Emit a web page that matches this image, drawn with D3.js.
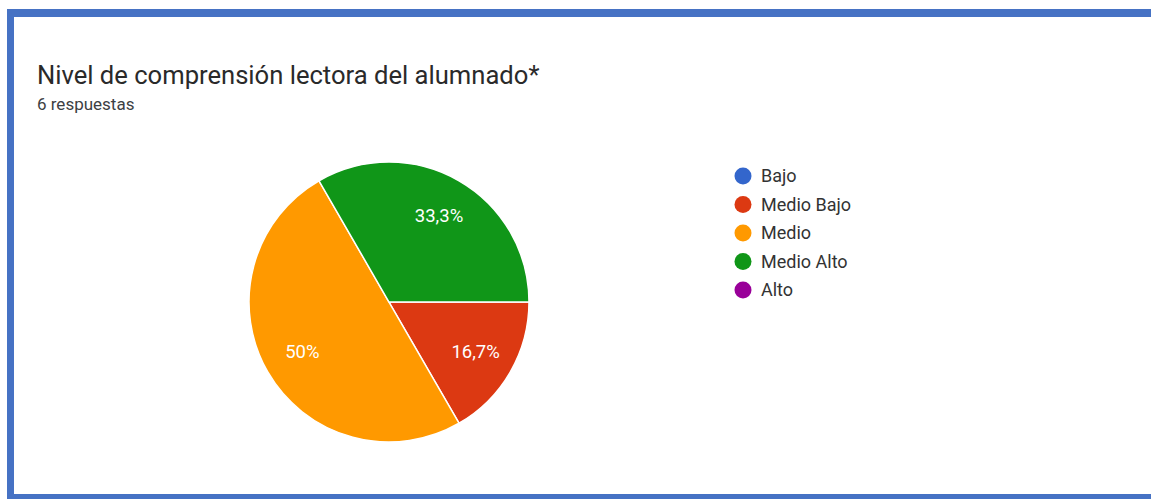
<!DOCTYPE html>
<html><head><meta charset="utf-8">
<script src="https://cdn.jsdelivr.net/npm/d3@7"></script>
<style>
html,body{margin:0;padding:0;background:#fff;}
svg{display:block;}
</style></head>
<body>
<svg id="chart" width="1151" height="499"></svg>
<script>
const categories = ["Bajo", "Medio Bajo", "Medio", "Medio Alto", "Alto"];
const counts = [0, 1, 3, 2, 0];
const colors = ["#3366cc", "#dc3912", "#ff9900", "#109618", "#990099"];
const sliceLabels = ["", "16,7%", "50%", "33,3%", ""];
const title = "Nivel de comprensión lectora del alumnado*";
const subtitle = "6 respuestas";

const svg = d3.select("#chart");
const font = "Roboto, 'Noto Sans', Arial, sans-serif";

// frame
svg.append("rect").attr("x", 0).attr("y", 0).attr("width", 1151).attr("height", 499).attr("fill", "#fff");
svg.append("rect").attr("x", 7).attr("y", 9).attr("width", 1160).attr("height", 8).attr("fill", "#4672c4");
svg.append("rect").attr("x", 7).attr("y", 9).attr("width", 7).attr("height", 500).attr("fill", "#4672c4");
svg.append("rect").attr("x", 7).attr("y", 494).attr("width", 1160).attr("height", 6).attr("fill", "#4672c4");

svg.append("text").attr("x", 37).attr("y", 84).attr("font-family", font).attr("font-size", 25.6)
  .attr("fill", "#2a2a2a").text(title);
svg.append("text").attr("x", 37).attr("y", 110).attr("font-family", font).attr("font-size", 17)
  .attr("fill", "#3c4043").text(subtitle);

const cx = 389, cy = 302, R = 140;
const data = categories.map((c, i) => ({cat: c, v: counts[i], color: colors[i], label: sliceLabels[i]}));
const pie = d3.pie().value(d => d.v).sort(null).startAngle(Math.PI / 2).endAngle(Math.PI / 2 + 2 * Math.PI);
const arcs = pie(data).filter(a => a.data.v > 0);
const arc = d3.arc().innerRadius(0).outerRadius(R);
const labelArc = d3.arc().innerRadius(100).outerRadius(100);

const g = svg.append("g").attr("transform", `translate(${cx},${cy})`);
g.selectAll("path").data(arcs).join("path")
  .attr("d", arc).attr("fill", d => d.data.color)
  .attr("stroke", "#fff").attr("stroke-width", 1.5);
g.selectAll("text").data(arcs).join("text")
  .attr("transform", d => `translate(${labelArc.centroid(d)})`)
  .attr("text-anchor", "middle").attr("dy", "0.35em")
  .attr("font-family", font).attr("font-size", 18.5).attr("fill", "#fff")
  .text(d => d.data.label);

// legend
const ly = d3.scalePoint().domain(categories).range([176, 290]);
const lg = svg.append("g");
const items = lg.selectAll("g").data(categories).join("g")
  .attr("transform", d => `translate(743,${ly(d)})`);
items.append("circle").attr("r", 8.5).attr("fill", (d, i) => colors[i]);
items.append("text").attr("x", 18).attr("dy", "0.35em").attr("font-family", font)
  .attr("font-size", 18).attr("fill", "#333").text(d => d);
</script>
</body></html>
